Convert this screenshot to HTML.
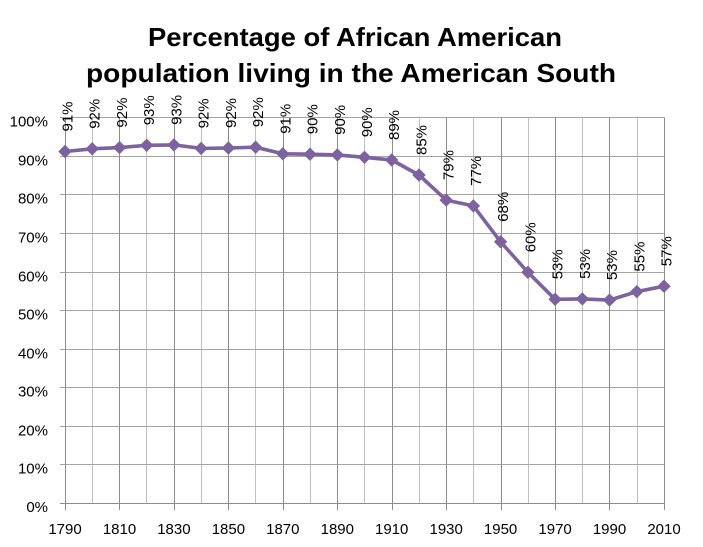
<!DOCTYPE html>
<html>
<head>
<meta charset="utf-8">
<style>
html,body{margin:0;padding:0;background:#fff;}
svg{display:block;}
text{font-family:"Liberation Sans",Arial,sans-serif;fill:#000;}
</style>
</head>
<body>
<svg width="703" height="547" viewBox="0 0 703 547" xmlns="http://www.w3.org/2000/svg">
<defs>
<marker id="dm" markerUnits="userSpaceOnUse" markerWidth="16" markerHeight="16" refX="8" refY="8" viewBox="0 0 16 16">
<path d="M8,1.3 L14.7,8 L8,14.7 L1.3,8 Z" fill="#7d62a0"/>
</marker>
</defs>
<rect width="703" height="547" fill="#fff"/>
<!-- Title -->
<text x="148" y="46" font-size="26" font-weight="bold" textLength="414" lengthAdjust="spacingAndGlyphs">Percentage of African American</text>
<text x="86" y="82" font-size="26" font-weight="bold" textLength="530" lengthAdjust="spacingAndGlyphs">population living in the American South</text>

<!-- minor vertical grid -->
<g stroke="#c0c0c0" stroke-width="1">
<line x1="92.5" y1="117.5" x2="92.5" y2="503.5"/>
<line x1="146.5" y1="117.5" x2="146.5" y2="503.5"/>
<line x1="201.5" y1="117.5" x2="201.5" y2="503.5"/>
<line x1="255.5" y1="117.5" x2="255.5" y2="503.5"/>
<line x1="310.5" y1="117.5" x2="310.5" y2="503.5"/>
<line x1="364.5" y1="117.5" x2="364.5" y2="503.5"/>
<line x1="419.5" y1="117.5" x2="419.5" y2="503.5"/>
<line x1="473.5" y1="117.5" x2="473.5" y2="503.5"/>
<line x1="528.5" y1="117.5" x2="528.5" y2="503.5"/>
<line x1="582.5" y1="117.5" x2="582.5" y2="503.5"/>
<line x1="637.5" y1="117.5" x2="637.5" y2="503.5"/>
</g>
<!-- horizontal grid -->
<g stroke="#a3a3a3" stroke-width="1">
<line x1="60" y1="117.5" x2="664.5" y2="117.5"/>
<line x1="60" y1="156.5" x2="664.5" y2="156.5"/>
<line x1="60" y1="194.5" x2="664.5" y2="194.5"/>
<line x1="60" y1="233.5" x2="664.5" y2="233.5"/>
<line x1="60" y1="272.5" x2="664.5" y2="272.5"/>
<line x1="60" y1="310.5" x2="664.5" y2="310.5"/>
<line x1="60" y1="349.5" x2="664.5" y2="349.5"/>
<line x1="60" y1="387.5" x2="664.5" y2="387.5"/>
<line x1="60" y1="426.5" x2="664.5" y2="426.5"/>
<line x1="60" y1="464.5" x2="664.5" y2="464.5"/>
<line x1="60" y1="503.5" x2="664.5" y2="503.5" stroke="#8c8c8c"/>
</g>
<!-- major vertical grid + ticks -->
<g stroke="#8c8c8c" stroke-width="1">
<line x1="65.5" y1="117.5" x2="65.5" y2="510"/>
<line x1="119.5" y1="117.5" x2="119.5" y2="510"/>
<line x1="174.5" y1="117.5" x2="174.5" y2="510"/>
<line x1="228.5" y1="117.5" x2="228.5" y2="510"/>
<line x1="283.5" y1="117.5" x2="283.5" y2="510"/>
<line x1="337.5" y1="117.5" x2="337.5" y2="510"/>
<line x1="392.5" y1="117.5" x2="392.5" y2="510"/>
<line x1="446.5" y1="117.5" x2="446.5" y2="510"/>
<line x1="501.5" y1="117.5" x2="501.5" y2="510"/>
<line x1="555.5" y1="117.5" x2="555.5" y2="510"/>
<line x1="609.5" y1="117.5" x2="609.5" y2="510"/>
<line x1="664.5" y1="117.5" x2="664.5" y2="510"/>
</g>

<!-- Y labels -->
<g font-size="15" text-anchor="end">
<text x="48" y="126.5">100%</text>
<text x="48" y="165.5">90%</text>
<text x="48" y="203.5">80%</text>
<text x="48" y="242.5">70%</text>
<text x="48" y="281.5">60%</text>
<text x="48" y="319.5">50%</text>
<text x="48" y="358.5">40%</text>
<text x="48" y="396.5">30%</text>
<text x="48" y="435.5">20%</text>
<text x="48" y="473.5">10%</text>
<text x="48" y="512">0%</text>
</g>
<!-- X labels -->
<g font-size="15" text-anchor="middle">
<text x="65" y="534">1790</text>
<text x="119.5" y="534">1810</text>
<text x="173.9" y="534">1830</text>
<text x="228.4" y="534">1850</text>
<text x="282.8" y="534">1870</text>
<text x="337.3" y="534">1890</text>
<text x="391.7" y="534">1910</text>
<text x="446.2" y="534">1930</text>
<text x="500.6" y="534">1950</text>
<text x="555.1" y="534">1970</text>
<text x="609.5" y="534">1990</text>
<text x="664" y="534">2010</text>
</g>

<!-- Series -->
<polyline fill="none" stroke="#7d62a0" stroke-width="3.6" stroke-linejoin="round"
marker-start="url(#dm)" marker-mid="url(#dm)" marker-end="url(#dm)"
points="65,151.5 92.2,148.8 119.5,147.6 146.7,145.3 173.9,144.9 201.1,148.4 228.4,148.0 255.6,147.2 282.8,153.8 310.0,154.2 337.3,154.9 364.5,157.3 391.7,160.0 419.0,175.0 446.2,200.1 473.4,205.9 500.6,241.8 527.9,272.3 555.1,299.3 582.3,298.9 609.5,300.1 636.8,291.6 664.0,286.2"/>

<!-- Data labels -->
<g font-size="15">
<text transform="translate(72.5,131.5) rotate(-90)">91%</text>
<text transform="translate(99.7,128.8) rotate(-90)">92%</text>
<text transform="translate(127,127.6) rotate(-90)">92%</text>
<text transform="translate(154.2,125.3) rotate(-90)">93%</text>
<text transform="translate(181.4,124.9) rotate(-90)">93%</text>
<text transform="translate(208.6,128.4) rotate(-90)">92%</text>
<text transform="translate(235.9,128) rotate(-90)">92%</text>
<text transform="translate(263.1,127.2) rotate(-90)">92%</text>
<text transform="translate(290.3,133.8) rotate(-90)">91%</text>
<text transform="translate(317.5,134.2) rotate(-90)">90%</text>
<text transform="translate(344.8,134.9) rotate(-90)">90%</text>
<text transform="translate(372,137.3) rotate(-90)">90%</text>
<text transform="translate(399.2,140) rotate(-90)">89%</text>
<text transform="translate(426.5,155) rotate(-90)">85%</text>
<text transform="translate(453.7,180.1) rotate(-90)">79%</text>
<text transform="translate(480.9,185.9) rotate(-90)">77%</text>
<text transform="translate(508.1,221.8) rotate(-90)">68%</text>
<text transform="translate(535.4,252.3) rotate(-90)">60%</text>
<text transform="translate(562.6,279.3) rotate(-90)">53%</text>
<text transform="translate(589.8,278.9) rotate(-90)">53%</text>
<text transform="translate(617,280.1) rotate(-90)">53%</text>
<text transform="translate(644.3,271.6) rotate(-90)">55%</text>
<text transform="translate(671.5,266.2) rotate(-90)">57%</text>
</g>
</svg>
</body>
</html>
